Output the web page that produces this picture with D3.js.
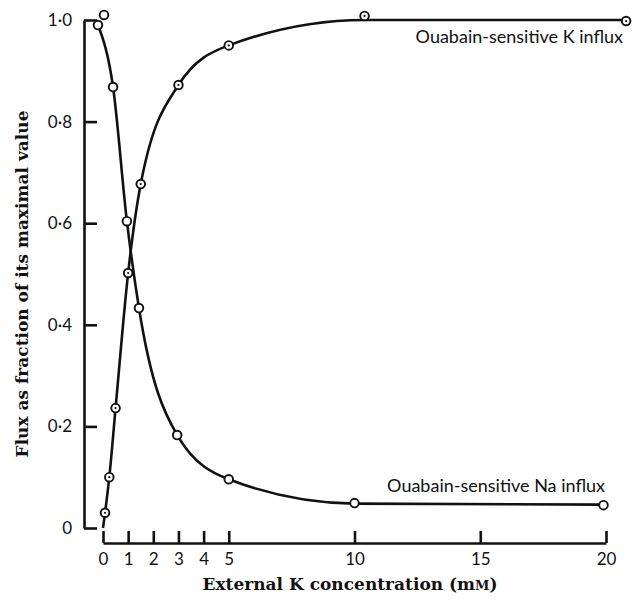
<!DOCTYPE html>
<html>
<head>
<meta charset="utf-8">
<script src="https://cdn.jsdelivr.net/npm/d3@7"></script>
<style>
  body { margin: 0; background: #fff; }
  .tick text { font-family: Lato, "Open Sans", sans-serif; font-size: 17px; fill: #111; }
  .lbl { font-family: Lato, "Open Sans", sans-serif; font-size: 18px; fill: #111; }
  .ttl { font-family: "DejaVu Serif", serif; font-weight: bold; font-size: 17px; fill: #111; }
</style>
</head>
<body>
<div id="chart"></div>
<script>
// K influx points (dotted circles)
var kX = [0.08, 0.25, 0.5, 1.0, 1.5, 3.0, 5.0, 10.4, 20.8];
var kY = [0.03, 0.10, 0.236, 0.502, 0.677, 0.872, 0.95, 1.008, 0.998];
// line drawn through K influx
var kLineX = [0, 0.25, 0.5, 1.0, 1.5, 3.0, 5.0, 10.4, 20.8];
var kLineY = [0, 0.10, 0.236, 0.502, 0.677, 0.872, 0.95, 1.0, 1.0];

// Na influx points (open circles)
var naX = [-0.2, 0.04, 0.4, 0.95, 1.43, 2.95, 5.0, 10.0, 19.9];
var naY = [0.99, 1.01, 0.868, 0.604, 0.433, 0.183, 0.096, 0.049, 0.045];
// line drawn through Na influx
var naLineX = [-0.2, 0.4, 0.95, 1.43, 2.95, 5.0, 10.0, 19.9];
var naLineY = [0.99, 0.868, 0.604, 0.433, 0.183, 0.096, 0.048, 0.046];

var xTicks = [0, 1, 2, 3, 4, 5, 10, 15, 20];
var yTicks = [0, 0.2, 0.4, 0.6, 0.8, 1.0];

var width = 634, height = 600;

var svg = d3.select("#chart").append("svg")
    .attr("width", width)
    .attr("height", height);

var x = d3.scaleLinear().domain([0, 20]).range([103, 606]);
var y = d3.scaleLinear().domain([0, 1]).range([528, 20]);

// y axis, ticks pointing inward
var yAxis = svg.append("g")
    .attr("transform", "translate(84,0)")
    .call(d3.axisLeft(y)
      .tickValues(yTicks)
      .tickSize(-13)
      .tickSizeOuter(0)
      .tickPadding(12)
      .tickFormat(function(d) { return d === 0 ? "0" : d.toFixed(1).replace(".", "\u00b7") }))
yAxis.selectAll("path, line").attr("stroke", "#111").attr("stroke-width", 2.6)

// x axis, set lower with ticks pointing up
var xAxis = svg.append("g")
    .attr("transform", "translate(0,543)")
    .call(d3.axisBottom(x)
      .tickValues(xTicks)
      .tickSize(-12)
      .tickSizeOuter(0)
      .tickPadding(10))
xAxis.selectAll("path, line").attr("stroke", "#111").attr("stroke-width", 2.6)

var line = d3.line()
    .x(function(d) { return x(d[0]) })
    .y(function(d) { return y(d[1]) })
    .curve(d3.curveMonotoneX);

svg.append("path")
    .datum(d3.zip(kLineX, kLineY))
    .attr("d", line)
    .attr("fill", "none")
    .attr("stroke", "#111")
    .attr("stroke-width", 2.6);

svg.append("path")
    .datum(d3.zip(naLineX, naLineY))
    .attr("d", line)
    .attr("fill", "none")
    .attr("stroke", "#111")
    .attr("stroke-width", 2.6);

// Na markers
svg.selectAll(".na")
    .data(d3.zip(naX, naY))
    .enter()
    .append("circle")
    .attr("class", "na")
    .attr("cx", function(d) { return x(d[0]) })
    .attr("cy", function(d) { return y(d[1]) })
    .attr("r", 4.3)
    .attr("fill", "#fff")
    .attr("stroke", "#111")
    .attr("stroke-width", 1.9);

// K markers, with a dot in the middle
var kg = svg.selectAll(".k")
    .data(d3.zip(kX, kY))
    .enter()
    .append("g")
    .attr("class", "k")
    .attr("transform", function(d) { return "translate(" + x(d[0]) + "," + y(d[1]) + ")" });
kg.append("circle")
    .attr("r", 4.3)
    .attr("fill", "#fff")
    .attr("stroke", "#111")
    .attr("stroke-width", 1.9);
kg.append("circle")
    .attr("r", 1.1)
    .attr("fill", "#111");

svg.append("text")
    .attr("class", "lbl")
    .attr("x", 623)
    .attr("y", 43)
    .attr("text-anchor", "end")
    .text("Ouabain-sensitive K influx");

svg.append("text")
    .attr("class", "lbl")
    .attr("x", 605)
    .attr("y", 492)
    .attr("text-anchor", "end")
    .text("Ouabain-sensitive Na influx");

var xt = svg.append("text")
    .attr("class", "ttl")
    .attr("x", 350)
    .attr("y", 590)
    .attr("text-anchor", "middle");
xt.append("tspan").text("External K concentration (m");
xt.append("tspan").attr("font-size", "13px").text("M");
xt.append("tspan").text(")");

svg.append("text")
    .attr("class", "ttl")
    .attr("transform", "translate(28,284) rotate(-90)")
    .attr("text-anchor", "middle")
    .text("Flux as fraction of its maximal value");
</script>
</body>
</html>
